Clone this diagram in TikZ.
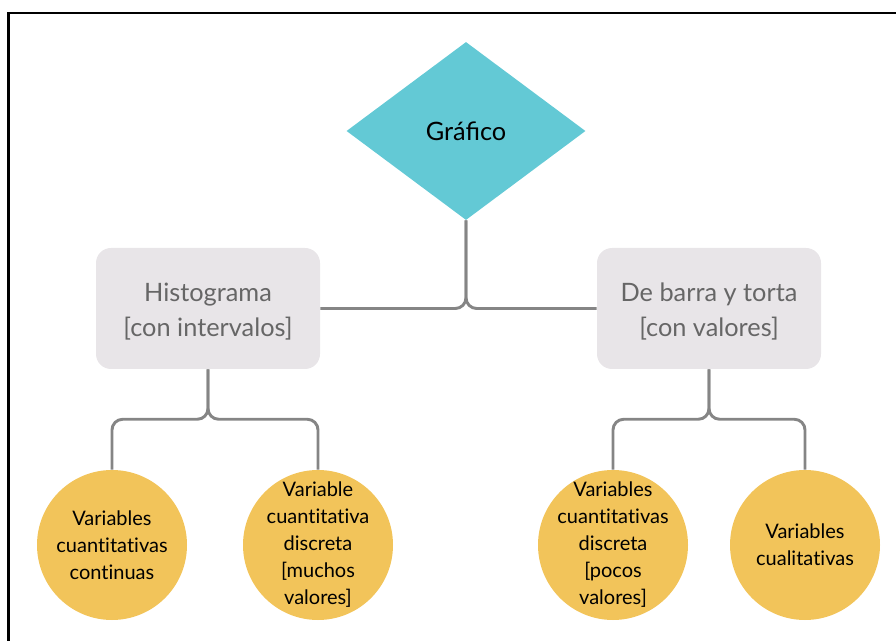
\documentclass[tikz,border=0pt]{standalone}
\usepackage{fontspec}
\setmainfont{Lato}[Ligatures={NoCommon}]
\usetikzlibrary{shapes.geometric}
\newcommand\pxu{0.75pt}
\definecolor{teal1}{HTML}{63C9D5}
\definecolor{boxgray}{HTML}{E8E5E8}
\definecolor{boxtext}{HTML}{666666}
\definecolor{circyel}{HTML}{F2C45A}
\definecolor{connc}{HTML}{858585}
\tikzset{
  topdia/.style={shape=diamond, fill=teal1, inner sep=0pt, minimum width=239*\pxu, minimum height=178*\pxu, font=\fontsize{19}{23}\selectfont, text=black},
  graybox/.style={shape=rectangle, fill=boxgray, rounded corners=15*\pxu, minimum width=224*\pxu, minimum height=121*\pxu},
  boxlabel/.style={align=center, text=boxtext, font=\fontsize{19}{26.25}\selectfont, yshift=-2.5pt},
  yelcirc/.style={shape=circle, fill=circyel, minimum size=150*\pxu, inner sep=0pt},
  circlabel/.style={align=center, text=black, font=\fontsize{15}{20.25}\selectfont, inner sep=0pt},
  conn/.style={draw=connc, line width=2.2pt, rounded corners=8pt},
  frameline/.style={draw=black, line width=1.6pt}
}
\begin{document}
\begin{tikzpicture}[x=0.75pt, y=-0.75pt]
\useasboundingbox (0,0) rectangle (896,641);
\coordinate (fbl) at (8.5,650);
\coordinate (ftl) at (8.5,13);
\coordinate (ftr) at (905,13);
\draw[frameline] (fbl) -- (ftl) -- (ftr);
\node[topdia] (G) at (466,131) {Gráﬁco};
\node[graybox, label={[boxlabel]center:{Histograma\\{[con intervalos]}}}] (L) at (208,308.5) {};
\node[graybox, label={[boxlabel]center:{De barra y torta\\{[con valores]}}}] (R) at (709,308.5) {};
\node[yelcirc, label={[circlabel]center:{Variables\\cuantitativas\\continuas}}] (c1) at (112,545) {};
\node[yelcirc, label={[circlabel]center:{Variable\\cuantitativa\\discreta\\{[muchos}\\valores]}}] (c2) at (318,545) {};
\node[yelcirc, label={[circlabel]center:{Variables\\cuantitativas\\discreta\\{[pocos}\\valores]}}] (c3) at (613,545) {};
\node[yelcirc, label={[circlabel]center:{Variables\\cualitativas}}] (c4) at (805,545) {};
\draw[conn] (G.south) |- (L.east);
\draw[conn] (G.south) |- (R.west);
\draw[conn] (L.south) -- ++(0,50) -| (c1.north);
\draw[conn] (L.south) -- ++(0,50) -| (c2.north);
\draw[conn] (R.south) -- ++(0,50) -| (c3.north);
\draw[conn] (R.south) -- ++(0,50) -| (c4.north);
\end{tikzpicture}
\end{document}
